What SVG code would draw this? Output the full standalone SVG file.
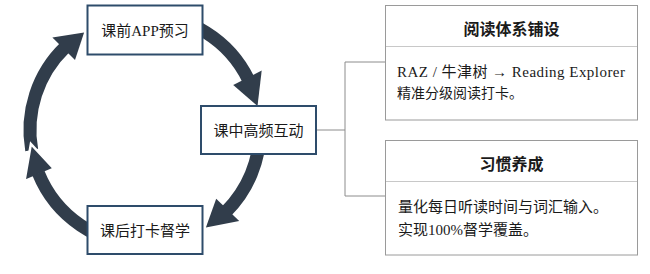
<svg xmlns="http://www.w3.org/2000/svg" width="650" height="274" viewBox="0 0 650 274">
<defs>
<style>
.arc{fill:none;stroke:#313d4b;stroke-width:13;stroke-linecap:butt}
.head{fill:#313d4b}
.headw{fill:#313d4b;stroke:#ffffff;stroke-width:2.5;stroke-linejoin:miter}
.step{fill:#ffffff;stroke:#2e4c6b;stroke-width:2}
.card{fill:#ffffff;stroke:#9a9a9a;stroke-width:1}
.div{stroke:#c8c8c8;stroke-width:1}
.conn{fill:none;stroke:#8c8c8c;stroke-width:1}
.t{font-family:"Liberation Serif","Noto Sans CJK SC",serif;fill:#1a1a1a}
.st{font-size:15px;text-anchor:middle}
.hd{font-size:16px;font-weight:bold;text-anchor:middle}
</style>
</defs>
<rect width="650" height="274" fill="#ffffff"/>
<g id="cycle-arrows">
<path class="arc" d="M145,15 A115,115 0 0 1 248.4,79.6"/>
<polygon class="head" points="233.2,85.1 261.7,70.5 257.5,106.1"/>
<path class="arc" d="M260,130 A115,115 0 0 1 226.3,211.3"/>
<polygon class="head" points="216.2,198.8 239.2,221.0 205.9,227.5"/>
<path class="arc" d="M31.7,150 A115,115 0 0 1 65.1,47.3"/>
<polygon class="head" points="75.0,60.0 52.4,37.4 84.1,32.5"/>
<polygon class="headw" points="53.9,168.7 24.4,181.2 30.9,144.0"/>
<path class="arc" d="M145,245 A115,115 0 0 1 38.4,173.1"/>
</g>
<g id="connectors">
<path class="conn" d="M316,130 H345 M345,62 V196 M345,62 H385 M345,196 H385"/>
</g>
<g id="node-pre">
<rect class="step" x="87.5" y="5.5" width="115" height="49"/>
<text class="t st" x="145" y="35.5">课前APP预习</text>
</g>
<g id="node-in">
<rect class="step" x="201" y="106" width="115" height="48"/>
<text class="t st" x="258.5" y="135.5">课中高频互动</text>
</g>
<g id="node-post">
<rect class="step" x="87.5" y="206" width="115" height="48"/>
<text class="t st" x="145" y="235.5">课后打卡督学</text>
</g>
<g id="card-reading">
<rect class="card" x="385.5" y="5.5" width="252" height="114.5"/>
<line class="div" x1="386" y1="46.5" x2="637" y2="46.5"/>
<text class="t hd" x="511.5" y="34.5">阅读体系铺设</text>
<text class="t" x="397" y="76.5" font-size="15" textLength="228" lengthAdjust="spacing">RAZ / 牛津树 → Reading Explorer</text>
<text class="t" x="397" y="98" font-size="14">精准分级阅读打卡。</text>
</g>
<g id="card-habit">
<rect class="card" x="385.5" y="140.5" width="252" height="114.5"/>
<line class="div" x1="386" y1="181.5" x2="637" y2="181.5"/>
<text class="t hd" x="511.5" y="169.5">习惯养成</text>
<text class="t" x="398" y="211.5" font-size="15">量化每日听读时间与词汇输入。</text>
<text class="t" x="398" y="235" font-size="15">实现100%督学覆盖。</text>
</g>
</svg>
